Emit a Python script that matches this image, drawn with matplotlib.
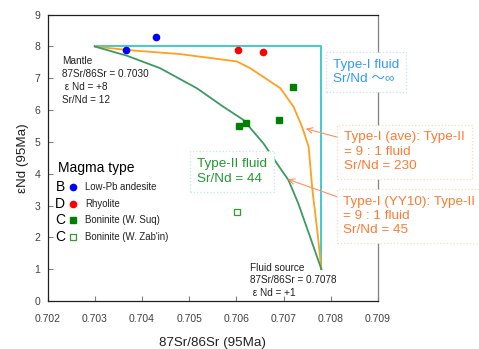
import matplotlib
matplotlib.use('Agg')
import matplotlib.pyplot as plt

plt.rcParams['font.family'] = ['Liberation Sans', 'Noto Sans CJK JP', 'DejaVu Sans']

# sample data
andesite_x = [0.70367, 0.70429]
andesite_y = [7.89, 8.30]
rhyolite_x = [0.70603, 0.70657]
rhyolite_y = [7.89, 7.83]
suq_x = [0.70605, 0.70621, 0.70690, 0.70719]
suq_y = [5.51, 5.59, 5.70, 6.72]
zabin_x = [0.70602]
zabin_y = [2.79]

# mixing curves
type1_x = [0.7030, 0.7078, 0.7078]
type1_y = [8.0, 8.0, 1.0]
ave_x = [0.7030, 0.70368, 0.70481, 0.70601, 0.70629, 0.70693, 0.70721, 0.70739, 0.70753, 0.70761, 0.70772, 0.7078]
ave_y = [8.0, 7.89, 7.76, 7.53, 7.32, 6.69, 6.11, 5.48, 4.85, 3.49, 2.13, 1.0]
yy10_x = [0.7030, 0.70368, 0.70438, 0.70516, 0.70572, 0.70615, 0.70657, 0.70693, 0.70710, 0.70731, 0.70756, 0.7078]
yy10_y = [8.0, 7.71, 7.32, 6.69, 6.11, 5.69, 4.96, 4.17, 3.81, 3.07, 2.02, 1.0]

legend_letters = ['B', 'D', 'C', 'C']
legend_labels = ['Low-Pb andesite', 'Rhyolite', 'Boninite (W. Suq)', "Boninite (W. Zab'in)"]

fig = plt.figure(figsize=(4.79, 3.49), dpi=100)
ax = fig.add_axes([0.0992, 0.1375, 0.69, 0.8205])

ax.plot(type1_x, type1_y, color='#40cccc', lw=1.4, zorder=2)
ax.plot(ave_x, ave_y, color='#ffa020', lw=1.3, zorder=2)
ax.plot(yy10_x, yy10_y, color='#3a9a60', lw=1.3, zorder=2)

m_and, = ax.plot(andesite_x, andesite_y, 'o', color='#0000ff', ms=4.5, zorder=4)
m_rhy, = ax.plot(rhyolite_x, rhyolite_y, 'o', color='#ff0000', ms=4.5, zorder=4)
m_suq, = ax.plot(suq_x, suq_y, 's', color='#008000', ms=4.5, zorder=4)
m_zab, = ax.plot(zabin_x, zabin_y, 's', mfc='white', mec='#339933', mew=0.9, ms=4.3, zorder=4)

ax.set_xlim(0.702, 0.709)
ax.set_ylim(0, 9)
ax.set_xticks([0.702, 0.703, 0.704, 0.705, 0.706, 0.707, 0.708, 0.709])
ax.set_xticklabels(['0.702', '0.703', '0.704', '0.705', '0.706', '0.707', '0.708', '0.709'])
ax.set_yticks(range(10))
ax.tick_params(direction='in', length=3.5, width=0.8, labelsize=7.5, labelcolor='#404040', color='#808080')
ax.tick_params(axis='x', pad=9)
ax.tick_params(axis='y', pad=5)
ax.spines['right'].set_color('#808080')
ax.spines['top'].set_color('#202020')
ax.spines['left'].set_color('#202020')
ax.spines['bottom'].set_color('#202020')
for s in ax.spines.values():
    s.set_linewidth(0.9)

ax.set_xlabel('87Sr/86Sr (95Ma)', fontsize=9.6, color='#202020', labelpad=10)
ax.set_ylabel('εNd (95Ma)', fontsize=9.6, color='#202020', labelpad=4)

# legend built by hand (letters in front of markers)
ax.text(0.031, 0.465, 'Magma type', transform=ax.transAxes, fontsize=10, va='center')
rows_y = [0.399, 0.340, 0.282, 0.222]
handles = [m_and, m_rhy, m_suq, m_zab]
for letter, label, h, ry in zip(legend_letters, legend_labels, handles, rows_y):
    ax.text(0.0387, ry, letter, transform=ax.transAxes, fontsize=10, ha='center', va='center')
    ax.plot([0.076], [ry], transform=ax.transAxes, marker=h.get_marker(), ms=h.get_markersize(),
            mfc=h.get_markerfacecolor(), mec=h.get_markeredgecolor(), mew=h.get_markeredgewidth(),
            ls='none', clip_on=False)
    ax.text(0.114, ry, label, transform=ax.transAxes, fontsize=6.9, va='center', color='#202020')

ax.text(0.702314, 6.934, 'Mantle\n87Sr/86Sr = 0.7030\n ε Nd = +8\nSr/Nd = 12',
        fontsize=7.2, va='center', linespacing=1.35, color='#202020')
ax.text(0.706290, 0.651, 'Fluid source\n87Sr/86Sr = 0.7078\n ε Nd = +1',
        fontsize=7.2, va='center', linespacing=1.34, color='#202020')

ax.text(0.708043, 7.195, 'Type-I fluid\nSr/Nd ～∞', fontsize=9.7, va='center', color='#3399ff',
        linespacing=1.23, clip_on=False, zorder=5,
        bbox=dict(boxstyle='square,pad=0.5', fc='white', ec='#c8e0f8', ls=':', lw=0.9))
ax.text(0.705161, 4.078, 'Type-II fluid\nSr/Nd = 44', fontsize=9.7, va='center', color='#229933',
        linespacing=1.36, zorder=5,
        bbox=dict(boxstyle='square,pad=0.5', fc='white', ec='#c8e8d0', ls=':', lw=0.9))
ax.text(0.708282, 4.695, 'Type-I (ave): Type-II\n= 9 : 1 fluid\nSr/Nd = 230', fontsize=9.7, va='center',
        color='#ff7a33', linespacing=1.26, clip_on=False, zorder=5,
        bbox=dict(boxstyle='square,pad=0.5', fc='white', ec='#fcd8c0', ls=':', lw=0.9))
ax.text(0.708267, 2.673, 'Type-I (YY10): Type-II\n= 9 : 1 fluid\nSr/Nd = 45', fontsize=9.7, va='center',
        color='#ff7a33', linespacing=1.26, clip_on=False, zorder=5,
        bbox=dict(boxstyle='square,pad=0.5', fc='white', ec='#fcd8c0', ls=':', lw=0.9))

ax.annotate('', xy=(0.70747, 5.418), xytext=(0.70814, 5.148),
            arrowprops=dict(arrowstyle='->', color='#ff9060', lw=0.8, shrinkA=0, shrinkB=0))
ax.annotate('', xy=(0.707089, 3.827), xytext=(0.708127, 3.28),
            arrowprops=dict(arrowstyle='->', color='#ff9060', lw=0.8, shrinkA=0, shrinkB=0))

fig.savefig('out.png', dpi=100)
